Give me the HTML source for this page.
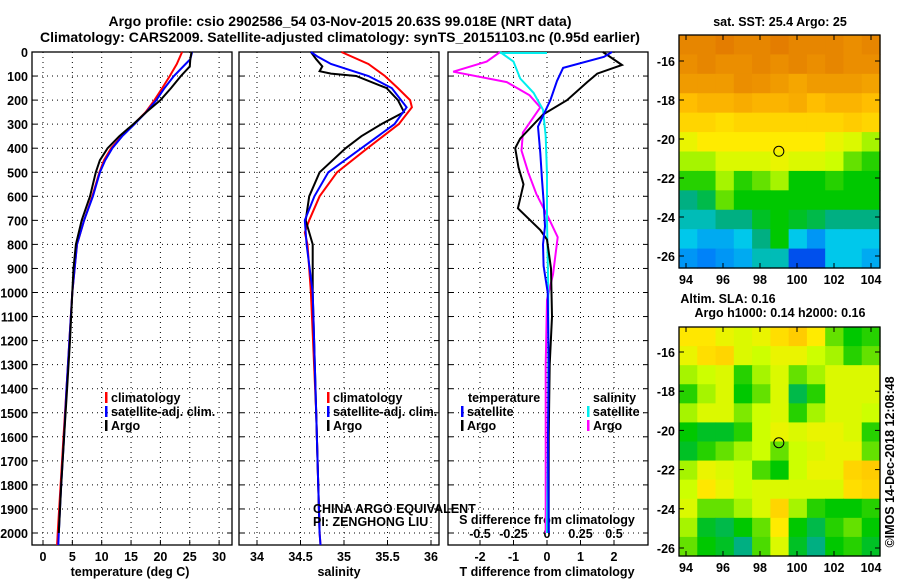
<!DOCTYPE html>
<html><head><meta charset="utf-8">
<style>
html,body{margin:0;padding:0;background:#fff;}
svg{display:block;font-family:"Liberation Sans",sans-serif;}
.b{font-weight:bold;font-size:12.5px;}
</style></head>
<body>
<svg id="c" width="900" height="580" viewBox="0 0 900 580">
<text class="b" x="340" y="26" text-anchor="middle" style="font-size:14px">Argo profile: csio 2902586_54 03-Nov-2015 20.63S 99.018E (NRT data)</text>
<text class="b" x="340" y="42" text-anchor="middle" style="font-size:14px">Climatology: CARS2009. Satellite-adjusted climatology: synTS_20151103.nc (0.95d earlier)</text>
<g id="g"></g>
</svg>
<script>
// ---------- data ----------
const depthTicks=[0,100,200,300,400,500,600,700,800,900,1000,1100,1200,1300,1400,1500,1600,1700,1800,1900,2000];
const tempTicks=[0,5,10,15,20,25,30];
const salTicks=[34,34.5,35,35.5,36];
const tdTicks=[-2,-1,0,1,2];
const sdTicks=[-0.5,-0.25,0,0.25,0.5];
const sdTickLabels=['-0.5','-0.25','0','0.25','0.5'];

const tClimDepth=[0,50,100,150,200,250,300,350,400,450,500,600,700,800,1000,1200,1400,1600,1800,2000,2050];
const tClim=[23.7,22.8,21.6,20.3,19,17.5,15.5,13.4,11.6,10.4,9.6,8.4,7,5.8,5,4.5,4,3.5,3,2.5,2.4];
const tSatDepth=[0,30,50,100,150,200,250,300,350,400,450,500,600,700,800,1000,1200,1400,1600,1800,2000,2050];
const tSat=[25.4,25.1,24.3,22.3,20.7,19.3,17.6,15.6,13.5,11.8,10.6,9.7,8.5,7,5.8,5,4.5,4,3.6,3.1,2.7,2.6];
const tArgoDepth=[0,30,60,100,150,200,250,300,350,400,450,500,600,700,800,900,1000,1200,1400,1600,1800,2000];
const tArgo=[25.3,25.1,25,23.5,21.8,20,17.6,15.4,13,11,9.7,9,8,6.6,5.6,5.2,5,4.6,4.1,3.6,3.1,2.7];

const sClimDepth=[0,50,100,150,200,230,300,400,500,600,700,750,800,1000,1500,2000,2050];
const sClim=[34.97,35.28,35.47,35.62,35.76,35.78,35.63,35.27,34.92,34.72,34.6,34.55,34.58,34.62,34.68,34.72,34.73];
const sSatDepth=[0,20,50,100,150,230,300,400,500,600,700,800,1000,1500,2000,2050];
const sSat=[34.62,34.7,34.85,35.28,35.55,35.72,35.58,35.2,34.82,34.66,34.55,34.57,34.64,34.68,34.72,34.73];
const sArgoDepth=[0,30,60,80,90,100,150,200,250,300,350,400,500,600,700,750,800,1000,1500,2000];
const sArgo=[34.62,34.68,34.75,34.72,34.85,35.14,35.49,35.62,35.69,35.43,35.2,35.02,34.72,34.6,34.56,34.6,34.64,34.64,34.68,34.72];

const tdSatDepth=[0,20,66,120,200,310,420,530,620,725,800,890,1000,1300,1600,2000];
const tdSat=[1.94,1.7,0.48,0.3,0.1,-0.27,-0.2,-0.15,-0.1,-0.06,-0.12,-0.1,0.02,0.05,0.03,0.05];
const tdArgoDepth=[0,54,90,125,200,260,360,400,480,550,650,740,780,900,1100,1300,1600,2000];
const tdArgo=[1.67,2.24,1.5,1.2,0.6,-0.12,-0.8,-0.95,-0.85,-0.7,-0.87,-0.2,0,0.12,0.15,0.08,0.05,0.05];
const sdArgoDepth=[0,40,82,125,180,230,335,410,500,590,700,770,925,1030,1300,1600,2000];
const sdArgo=[-0.35,-0.45,-0.7,-0.3,-0.13,-0.05,-0.18,-0.19,-0.14,-0.08,0.02,0.08,0.045,0,-0.01,-0.01,-0.01];
const sdSatDepth=[0,40,110,170,240,350,510,700,1000,1500,2000];
const sdSat=[-0.35,-0.25,-0.2,-0.1,-0.03,-0.01,0,0,0.01,0.01,0];

const sstGrid=[
[.9,.9,.92,.9,.9,.92,.9,.9,.9,.88,.9],
[.88,.9,.88,.88,.9,.88,.9,.88,.9,.88,.88],
[.85,.85,.85,.88,.87,.85,.82,.85,.85,.85,.83],
[.75,.78,.78,.8,.78,.78,.8,.75,.78,.78,.75],
[.7,.7,.68,.7,.7,.7,.7,.7,.7,.72,.7],
[.62,.65,.65,.65,.65,.65,.65,.65,.62,.6,.55],
[.55,.55,.6,.6,.6,.62,.6,.6,.58,.5,.45],
[.45,.45,.55,.45,.5,.55,.42,.42,.45,.42,.42],
[.35,.38,.5,.42,.42,.42,.42,.42,.42,.42,.42],
[.3,.3,.35,.35,.4,.42,.4,.38,.35,.35,.35],
[.25,.22,.22,.25,.35,.42,.25,.2,.25,.25,.25],
[.2,.18,.2,.22,.3,.3,.1,.1,.25,.25,.22]];
const slaGrid=[
[.66,.66,.62,.6,.62,.68,.72,.65,.5,.42,.45],
[.62,.68,.7,.6,.58,.62,.62,.58,.55,.45,.5],
[.55,.58,.6,.45,.55,.6,.5,.55,.6,.6,.6],
[.45,.55,.6,.42,.5,.6,.38,.45,.6,.6,.6],
[.55,.6,.6,.52,.58,.6,.45,.55,.6,.6,.58],
[.42,.4,.4,.45,.58,.62,.6,.62,.62,.6,.45],
[.4,.45,.5,.55,.58,.5,.58,.6,.62,.62,.5],
[.55,.62,.6,.58,.48,.42,.58,.62,.62,.7,.72],
[.58,.66,.62,.58,.6,.6,.6,.6,.6,.68,.7],
[.6,.5,.5,.55,.6,.7,.55,.45,.42,.42,.45],
[.55,.4,.38,.42,.5,.65,.42,.38,.45,.5,.42],
[.5,.42,.4,.35,.48,.6,.4,.35,.42,.45,.4]];
const latTicks=[-16,-18,-20,-22,-24,-26];
const lonTicks=[94,96,98,100,102,104];
const argoLon=99.018, argoLat=-20.63;

// ---------- helpers ----------
const NS='http://www.w3.org/2000/svg';
const G=document.getElementById('g');
function mk(t,a,p){const e=document.createElementNS(NS,t);for(const k in a)e.setAttribute(k,a[k]);(p||G).appendChild(e);return e;}
const yD=d=>52+d*0.2405;
const xT=v=>43+v*5.87, xS=v=>257+(v-34)*87, xTD=v=>547+v*33.5, xSD=v=>547+v*134;
const PT=52,PB=545;

function panel(x0,x1,ticks,xf,name){
  const gp=mk('g',{});
  
  
  ticks.forEach(t=>{const x=xf(t);mk('line',{x1:x,x2:x,y1:PT,y2:PB,stroke:'#000','stroke-dasharray':'1,4','stroke-width':1},gp);
    mk('line',{x1:x,x2:x,y1:PB,y2:PB-5,stroke:'#000'},gp);});
  depthTicks.forEach(d=>{const y=yD(d);mk('line',{x1:x0,x2:x1,y1:y,y2:y,stroke:'#000','stroke-dasharray':'1,4'},gp);
    mk('line',{x1:x0,x2:x0+5,y1:y,y2:y,stroke:'#000'},gp);mk('line',{x1:x1,x2:x1-5,y1:y,y2:y,stroke:'#000'},gp);});
  mk('rect',{x:x0,y:PT,width:x1-x0,height:PB-PT,fill:'none',stroke:'#000','stroke-width':1.3},gp);
  return gp;
}
function line(ds,vs,xf,col,name){
  const p=mk('polyline',{points:ds.map((d,i)=>xf(vs[i]).toFixed(1)+','+yD(d).toFixed(1)).join(' '),fill:'none',stroke:col,'stroke-width':2});
  
  
}
function txt(x,y,s,anchor,cls,name,extra){
  const t=mk('text',Object.assign({x:x,y:y,'text-anchor':anchor||'start',class:cls||'b'},extra||{}));t.textContent=s;
  
  
  return t;
}

panel(32,232,tempTicks,xT,'temperature-panel');
panel(239,439,salTicks,xS,'salinity-panel');
panel(448,648,tdTicks,xTD,'difference-panel');
depthTicks.forEach(d=>txt(28,yD(d)+5,String(d),'end','b','depth-tick-label'));
tempTicks.forEach(t=>txt(xT(t),561,String(t),'middle','b','temp-tick-label'));
salTicks.forEach(t=>txt(xS(t),561,String(t),'middle','b','sal-tick-label'));
tdTicks.forEach(t=>txt(xTD(t),561,String(t),'middle','b','tdiff-tick-label'));
sdTicks.forEach((t,i)=>txt(xSD(t),538,sdTickLabels[i],'middle','b','sdiff-tick-label'));
txt(130,576,'temperature (deg C)','middle','b','temp-axis-title');
txt(339,576,'salinity','middle','b','sal-axis-title');
txt(547,576,'T difference from climatology','middle','b','tdiff-axis-title');
txt(547,524,'S difference from climatology','middle','b','sdiff-axis-title');

line(tClimDepth,tClim,xT,'#f00','temp-climatology-line');
line(tSatDepth,tSat,xT,'#00f','temp-satellite-line');
line(tArgoDepth,tArgo,xT,'#000','temp-argo-line');
line(sClimDepth,sClim,xS,'#f00','sal-climatology-line');
line(sArgoDepth,sArgo,xS,'#000','sal-argo-line');
line(sSatDepth,sSat,xS,'#00f','sal-satellite-line');
line(sdArgoDepth,sdArgo,xSD,'#f0f','sdiff-argo-line');
line(sdSatDepth,sdSat,xSD,'#0ee','sdiff-satellite-line');
line(tdArgoDepth,tdArgo,xTD,'#000','tdiff-argo-line');
line(tdSatDepth,tdSat,xTD,'#00f','tdiff-satellite-line');
mk('line',{x1:xSD(sdSat[0]),x2:xSD(0),y1:yD(0)+1,y2:yD(0)+1,stroke:'#0ee','stroke-width':2});

function leg(x,y,col,s,name){const r=mk('rect',{x:x,y:y-10,width:2.5,height:11,fill:col});
  
  txt(x+6,y,s,'start','b',name);}
[[105,'temp'],[327,'sal']].forEach(([x,n])=>{
  leg(x,402,'#f00','climatology',n+'-legend-climatology');
  leg(x,416,'#00f','satellite-adj. clim.',n+'-legend-satellite');
  leg(x,430,'#000','Argo',n+'-legend-argo');});
txt(468,402,'temperature','start','b','diff-legend-temperature-header');
leg(461,416,'#00f','satellite','diff-legend-t-satellite');
leg(461,430,'#000','Argo','diff-legend-t-argo');
txt(593,402,'salinity','start','b','diff-legend-salinity-header');
leg(587,416,'#0ee','satellite','diff-legend-s-satellite');
leg(587,430,'#f0f','Argo','diff-legend-s-argo');
txt(313,513,'CHINA ARGO EQUIVALENT','start','','pi-institution',{'font-size':'11.5'});
txt(313,526,'PI: ZENGHONG LIU','start','','pi-name',{'font-size':'11.5'});

const stops=[[0,[0,40,200]],[.15,[0,100,255]],[.25,[0,200,235]],[.35,[0,175,130]],[.42,[0,200,0]],[.5,[100,225,0]],[.58,[205,255,0]],[.65,[255,235,0]],[.75,[255,190,0]],[.85,[240,155,0]],[.92,[228,125,0]],[1,[210,100,0]]];
function cmap(v){for(let i=1;i<stops.length;i++){if(v<=stops[i][0]){const a=stops[i-1],b=stops[i],f=(v-a[0])/(b[0]-a[0]);return 'rgb('+a[1].map((c,k)=>Math.round(c+(b[1][k]-c)*f)).join(',')+')';}}return 'rgb(210,100,0)';}
function map(grid,top,bot,lat16,lat26,name){
  const x0=679,x1=880;
  const xL=l=>686+(l-94)*18.5, yL=la=>lat16+(-16-la)*(lat26-lat16)/10;
  const gm=mk('g',{});
  
  
  const nr=grid.length,nc=grid[0].length,cw=(x1-x0)/nc,ch=(bot-top)/nr;
  grid.forEach((row,r)=>row.forEach((v,c)=>{mk('rect',{x:x0+c*cw,y:top+r*ch,width:cw+0.6,height:ch+0.6,fill:cmap(v)},gm);}));
  mk('rect',{x:x0,y:top,width:x1-x0,height:bot-top,fill:'none',stroke:'#000','stroke-width':1.3},gm);
  latTicks.forEach(la=>{const y=yL(la);mk('line',{x1:x0,x2:x0+5,y1:y,y2:y,stroke:'#000'},gm);mk('line',{x1:x1,x2:x1-5,y1:y,y2:y,stroke:'#000'},gm);
    txt(x0-4,y+5,String(la),'end','b',name+'-lat-label');});
  lonTicks.forEach(lo=>{const x=xL(lo);mk('line',{x1:x,x2:x,y1:bot,y2:bot-5,stroke:'#000'},gm);mk('line',{x1:x,x2:x,y1:top,y2:top+5,stroke:'#000'},gm);
    txt(x,bot+16,String(lo),'middle','b',name+'-lon-label');});
  const ci=mk('circle',{cx:xL(argoLon),cy:yL(argoLat),r:5,fill:'none',stroke:'#000','stroke-width':1});
  
  
}
map(sstGrid,35,268,61,256,'sst-map');
map(slaGrid,327,556,352,548,'sla-map');
txt(780,26,'sat. SST: 25.4 Argo: 25','middle','b','sst-map-title');
txt(728,303,'Altim. SLA: 0.16','middle','b','sla-map-title');
txt(780,317,'Argo h1000: 0.14 h2000: 0.16','middle','b','sla-map-subtitle');
txt(0,0,'©IMOS 14-Dec-2018 12:08:48','middle','','imos-timestamp',{'font-size':'12',transform:'translate(894,462) rotate(-90)'});
</script>
</body></html>
